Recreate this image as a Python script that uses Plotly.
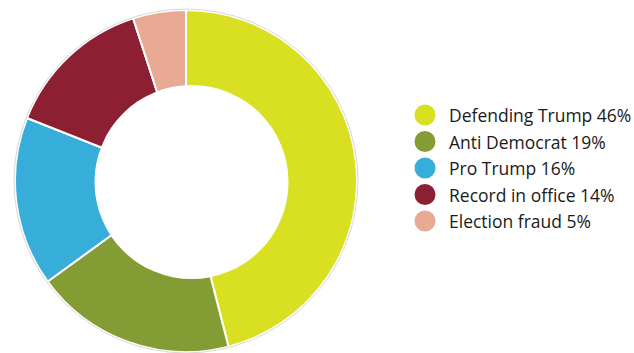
import plotly.graph_objects as go

# Share of messages by theme
categories = ["Defending Trump", "Anti Democrat", "Pro Trump", "Record in office", "Election fraud"]
shares = [46, 19, 16, 14, 5]
colors = ["#d9e021", "#839c33", "#36aed9", "#8c1f31", "#e8aa94"]

W, H = 634, 353
cx, cy, r_out = 186, 181, 171          # donut centre / outer radius (px)
hx, hy, r_in = 191.5, 182, 97          # hole centre / radius (px)

fig = go.Figure()

fig.add_trace(go.Pie(
    labels=categories,
    values=shares,
    sort=False,
    direction="clockwise",
    rotation=0,
    hole=0.5,
    marker=dict(colors=colors, line=dict(color="white", width=2)),
    textinfo="none",
    hoverinfo="label+percent",
    showlegend=False,
    domain=dict(x=[(cx - r_out) / W, (cx + r_out) / W],
                y=[(H - cy - r_out) / H, (H - cy + r_out) / H]),
))

# legend markers
leg_x = 425
leg_y0, leg_dy = 115, 26.5
fig.add_trace(go.Scatter(
    x=[leg_x] * len(categories),
    y=[leg_y0 + i * leg_dy for i in range(len(categories))],
    mode="markers",
    marker=dict(size=21, color=colors, line=dict(width=0)),
    hoverinfo="skip",
    showlegend=False,
    xaxis="x", yaxis="y",
))

annotations = []
for i, (name, val) in enumerate(zip(categories, shares)):
    annotations.append(dict(
        x=447, y=leg_y0 + i * leg_dy, xref="x", yref="y",
        text=f"{name} {val}%", showarrow=False,
        xanchor="left", yanchor="middle",
        font=dict(family="Open Sans", size=17.5, color="#1a1a1a"),
    ))

shapes = [
    # faint outline around the ring
    dict(type="circle", xref="x", yref="y", layer="above",
         x0=cx - r_out - 1, x1=cx + r_out + 1, y0=cy - r_out - 1, y1=cy + r_out + 1,
         line=dict(color="#d8d8d8", width=1), fillcolor="rgba(0,0,0,0)"),
    # centre hole
    dict(type="circle", xref="x", yref="y", layer="above",
         x0=hx - r_in, x1=hx + r_in, y0=hy - r_in, y1=hy + r_in,
         line=dict(width=0), fillcolor="white"),
]

fig.update_layout(
    width=W, height=H,
    margin=dict(l=0, r=0, t=0, b=0),
    paper_bgcolor="white", plot_bgcolor="rgba(0,0,0,0)",
    xaxis=dict(range=[0, W], visible=False, domain=[0, 1], fixedrange=True),
    yaxis=dict(range=[H, 0], visible=False, domain=[0, 1], fixedrange=True),
    annotations=annotations,
    shapes=shapes,
)

fig.write_html("out.html")
